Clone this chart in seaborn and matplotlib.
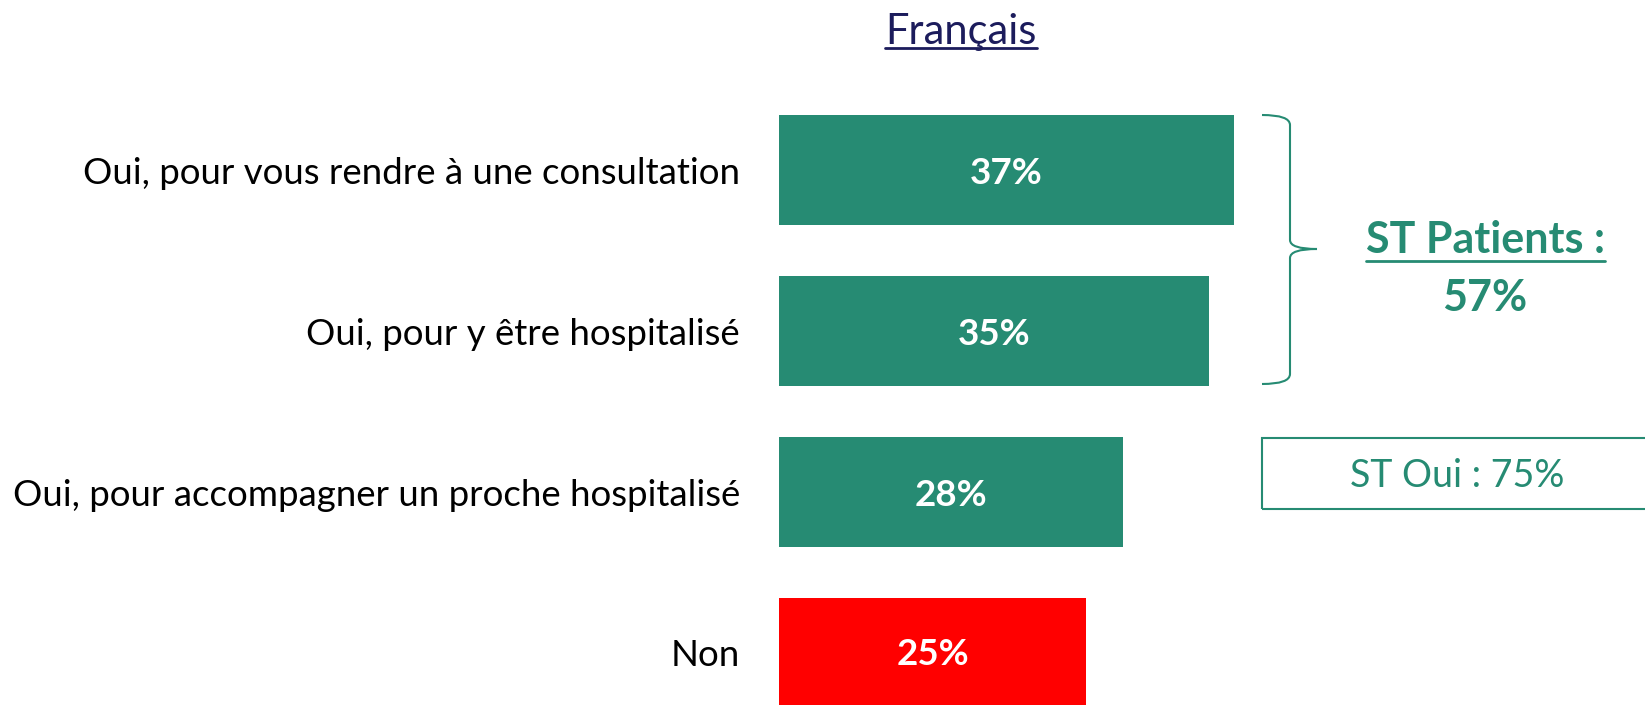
import numpy as np
import pandas as pd
import seaborn as sns
from matplotlib import pyplot as plt
from matplotlib.path import Path
from matplotlib.patches import PathPatch, Rectangle
from matplotlib.lines import Line2D

# Données

categories = ['Oui, pour vous rendre à une consultation',
              'Oui, pour y être hospitalisé',
              'Oui, pour accompagner un proche hospitalisé',
              'Non']
values = [37, 35, 28, 25]
value_labels = ['37%', '35%', '28%', '25%']
title = 'Français'
st_patients_label = 'ST Patients :'
st_patients_value = '57%'
st_oui_label = 'ST Oui : 75%'

green = '#268b73'
red = '#ff0000'
navy = '#1c1c5c'
colors = [green, green, green, red]

sns.set_theme(style='white')
plt.rcParams['font.family'] = ['Lato', 'DejaVu Sans']

W, H = 1645, 705
fig = plt.figure(figsize=(W / 100, H / 100), dpi=100)


def fx(px):
    return px / W


def fy(py):
    return 1 - py / H


ax = fig.add_axes([fx(779), 0, 614.5 / W, 1])

df = pd.DataFrame({'cat': categories, 'val': values})
sns.barplot(data=df, x='val', y='cat', hue='cat', palette=colors,
            legend=False, width=0.683, linewidth=0, saturation=1, ax=ax)

for cont, lab in zip(ax.containers, value_labels):
    txts = ax.bar_label(cont, labels=[lab], label_type='center', color='white',
                        fontsize=26.5, fontweight='bold')
    for t in txts:
        t.set_va('center_baseline')

ax.set_xlim(0, 50)
ax.set_ylim(3.323, -1.056)
ax.set(xlabel='', ylabel='', xticks=[])
ax.tick_params(axis='y', length=0, pad=28, labelsize=26.4, labelcolor='black')
sns.despine(ax=ax, left=True, bottom=True, top=True, right=True)

# Titre souligné
t_title = fig.text(fx(961), fy(32), title, ha='center', va='center',
                   fontsize=30, color=navy)

# Accolade
verts = [(1262, 115), (1290, 115), (1290, 125),
         (1290, 240),
         (1290, 249), (1317, 249),
         (1290, 249), (1290, 258),
         (1290, 374),
         (1290, 384), (1262, 384)]
codes = [Path.MOVETO, Path.CURVE3, Path.CURVE3,
         Path.LINETO,
         Path.CURVE3, Path.CURVE3,
         Path.CURVE3, Path.CURVE3,
         Path.LINETO,
         Path.CURVE3, Path.CURVE3]
brace = Path([(fx(x), fy(y)) for x, y in verts], codes)
fig.add_artist(PathPatch(brace, transform=fig.transFigure, fill=False,
                         edgecolor=green, lw=1.5))

t_st = fig.text(fx(1485), fy(240), st_patients_label, ha='center', va='center',
                fontsize=31, fontweight='bold', color=green)
fig.text(fx(1485), fy(298), st_patients_value, ha='center', va='center',
         fontsize=31, fontweight='bold', color=green)

# Encadré ST Oui
fig.add_artist(Rectangle((fx(1262), fy(509)), fx(1660) - fx(1262), fy(438) - fy(509),
                         transform=fig.transFigure, fill=False,
                         edgecolor=green, lw=1.5))
fig.text(fx(1457), fy(476), st_oui_label, ha='center', va='center',
         fontsize=27, color=green)

# Soulignements
fig.canvas.draw()
r = fig.canvas.get_renderer()
for txt, col, uy in [(t_title, navy, 48), (t_st, green, 261)]:
    bb = txt.get_window_extent(renderer=r)
    fig.add_artist(Line2D([bb.x0 / W, bb.x1 / W], [fy(uy), fy(uy)],
                          transform=fig.transFigure, color=col, lw=2))

fig.savefig('out.png', dpi=100)
